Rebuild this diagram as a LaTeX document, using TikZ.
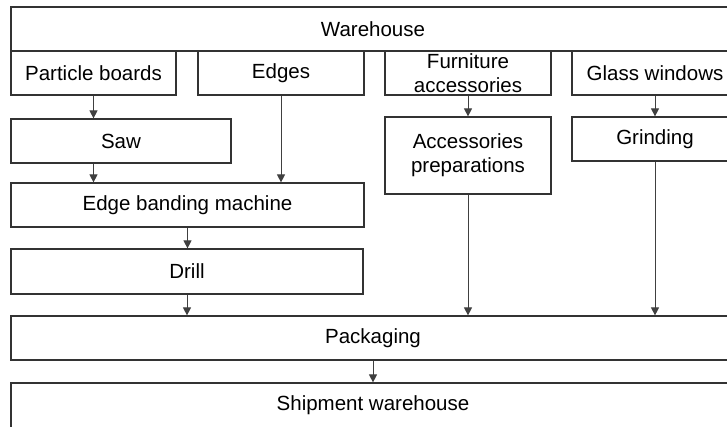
\documentclass[tikz,border=0pt]{standalone}
\usepackage{fontspec}
\setmainfont{Liberation Sans}
\usetikzlibrary{arrows.meta}
\begin{document}
\begin{tikzpicture}[x=1pt,y=-1pt,
  box/.style={draw=black!80,line width=1.2pt,rectangle,inner sep=0pt,align=center,
    font=\fontsize{20.5}{24}\selectfont},
  flow/.style={draw=black!75,line width=1pt,-{Triangle[width=8pt,length=8pt]}}]
\useasboundingbox (0,0) rectangle (727,427);
\node[box,minimum width=724,minimum height=44] (wh) at (373,29) {Warehouse};
\node[box,minimum width=165,minimum height=44] (pb) at (93.5,73) {Particle boards};
\node[box,minimum width=166,minimum height=44] (ed) at (281,73) {Edges};
\node[box,minimum width=166,minimum height=44] (fa) at (468,73) {Furniture\\accessories};
\node[box,minimum width=166,minimum height=44] (gw) at (655,73) {Glass windows};
\node[box,minimum width=220,minimum height=44] (saw) at (121,141) {Saw};
\node[box,minimum width=166,minimum height=77] (ap) at (468,155.5) {Accessories\\preparations};
\node[box,minimum width=166,minimum height=44] (gr) at (655,139) {Grinding};
\node[box,minimum width=353,minimum height=44] (ebm) at (187.5,205) {Edge banding machine};
\node[box,minimum width=352,minimum height=45] (dr) at (187,271.5) {Drill};
\node[box,minimum width=724,minimum height=44] (pk) at (373,338) {Packaging};
\node[box,minimum width=724,minimum height=45] (sw) at (373,405.5) {Shipment warehouse};
\draw[flow] (pb.south) -- (saw.north -| pb.south);
\draw[flow] (saw.south -| pb.south) -- (ebm.north -| pb.south);
\draw[flow] (ed.south) -- (ebm.north -| ed.south);
\draw[flow] (fa.south) -- (ap.north);
\draw[flow] (gw.south) -- (gr.north);
\draw[flow] (ebm.south) -- (dr.north -| ebm.south);
\draw[flow] (dr.south) -- (pk.north -| dr.south);
\draw[flow] (ap.south) -- (pk.north -| ap.south);
\draw[flow] (gr.south) -- (pk.north -| gr.south);
\draw[flow] (pk.south) -- (sw.north);
\end{tikzpicture}
\end{document}
